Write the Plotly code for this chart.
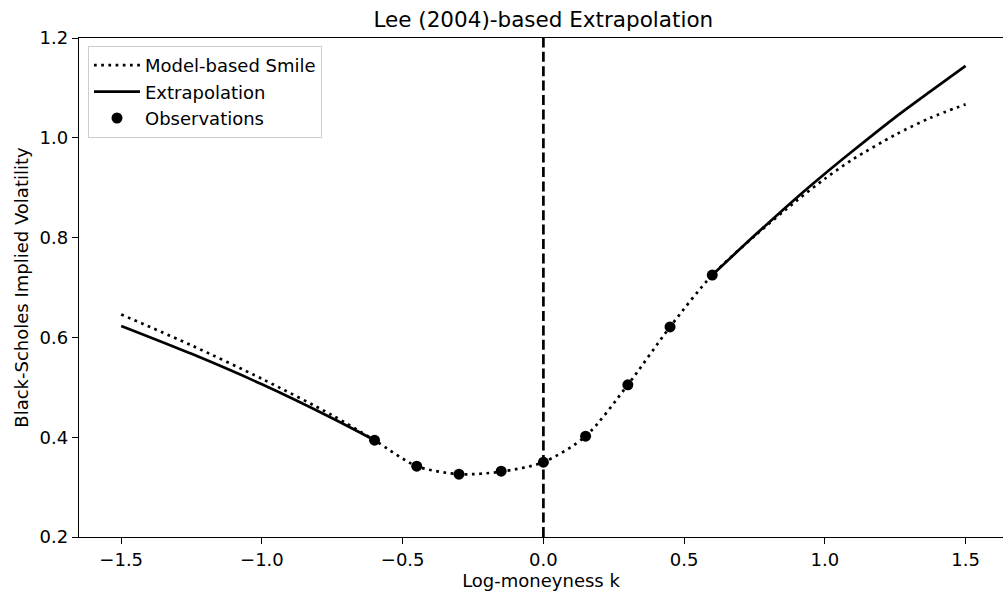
import plotly.graph_objects as go

# Model-implied smile across log-moneyness
smile_k = [-1.5, -1.25, -1.0, -0.75, -0.6, -0.45, -0.3, -0.15, 0.0,
           0.15, 0.3, 0.45, 0.6, 0.75, 0.9, 1.0, 1.1, 1.25, 1.375, 1.5]
smile_vol = [0.646, 0.584, 0.517, 0.444, 0.394, 0.342, 0.326, 0.331, 0.350,
             0.402, 0.505, 0.621, 0.725, 0.803, 0.874, 0.918, 0.957, 1.006, 1.040, 1.067]

# Lee (2004) wing extrapolation, left and right
left_k = [-1.5, -1.25, -1.0, -0.75, -0.6]
left_vol = [0.623, 0.567, 0.506, 0.438, 0.394]
right_k = [0.6, 0.75, 0.9, 1.0, 1.1, 1.25, 1.375, 1.5]
right_vol = [0.725, 0.804, 0.880, 0.928, 0.974, 1.041, 1.093, 1.144]

# Observed quotes
obs_k = [-0.6, -0.45, -0.3, -0.15, 0.0, 0.15, 0.3, 0.45, 0.6]
obs_vol = [0.394, 0.342, 0.326, 0.332, 0.350, 0.402, 0.505, 0.621, 0.725]

FONT = "DejaVu Sans"
LW = 2.7
fig = go.Figure()

fig.add_trace(go.Scatter(
    x=smile_k, y=smile_vol, mode="lines", name="Model-based Smile",
    line=dict(color="black", width=LW, dash="2.7px,4.5px", shape="spline", smoothing=0.8),
    legendgroup="a",
))
fig.add_trace(go.Scatter(
    x=left_k, y=left_vol, mode="lines", name="Extrapolation",
    line=dict(color="black", width=LW, shape="spline", smoothing=0.8),
    legendgroup="b",
))
fig.add_trace(go.Scatter(
    x=right_k, y=right_vol, mode="lines", name="Extrapolation",
    line=dict(color="black", width=LW, shape="spline", smoothing=0.8),
    legendgroup="b", showlegend=False,
))
fig.add_trace(go.Scatter(
    x=obs_k, y=obs_vol, mode="markers", name="Observations",
    marker=dict(color="black", size=11),
    legendgroup="c",
))

# ATM reference line
fig.add_shape(type="line", xref="x", yref="paper", x0=0, x1=0, y0=0, y1=1,
              line=dict(color="black", width=LW, dash="10px,4.4px"))

axis_common = dict(
    showgrid=False, zeroline=False, showline=True, linecolor="black", linewidth=1.4,
    ticks="outside", ticklen=6, tickwidth=1.4, tickcolor="black",
    tickfont=dict(family=FONT, size=18, color="black"),
)

fig.update_layout(
    width=1003, height=594,
    margin=dict(l=79, r=0, t=38, b=57),
    paper_bgcolor="white", plot_bgcolor="white",
    font=dict(family=FONT, color="black"),
    title=dict(text="Lee (2004)-based Extrapolation", x=(543.3) / 1003, xanchor="center",
               y=1 - 19 / 594, yanchor="middle",
               font=dict(family=FONT, size=21.5, color="black")),
    xaxis=dict(range=[-1.65, 1.633], tickvals=[-1.5, -1.0, -0.5, 0.0, 0.5, 1.0, 1.5],
               ticktext=["\u22121.5", "\u22121.0", "\u22120.5", "0.0", "0.5", "1.0", "1.5"],
               title=dict(text="Log-moneyness k", font=dict(family=FONT, size=18), standoff=4),
               mirror=True, **axis_common),
    yaxis=dict(range=[0.2, 1.2], tickvals=[0.2, 0.4, 0.6, 0.8, 1.0, 1.2],
               ticktext=["0.2", "0.4", "0.6", "0.8", "1.0", "1.2"],
               title=dict(text="Black-Scholes Implied Volatility", font=dict(family=FONT, size=18), standoff=6),
               **axis_common),
    showlegend=True,
    legend=dict(x=(88 - 79) / 924, y=1 - (46 - 38) / 499, xanchor="left", yanchor="top",
                bgcolor="white", bordercolor="#cccccc", borderwidth=1,
                font=dict(family=FONT, size=18, color="black"),
                traceorder="grouped", tracegroupgap=0, itemwidth=46),
)

fig.write_html("out.html")
